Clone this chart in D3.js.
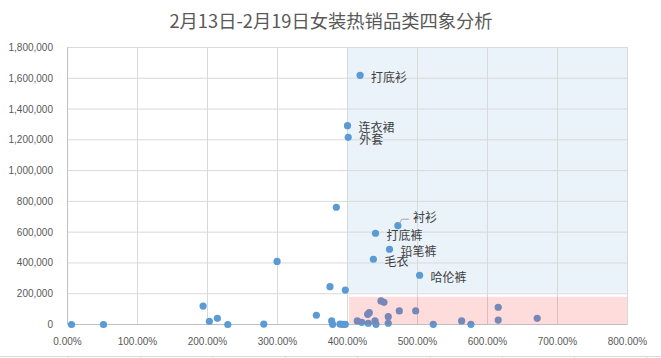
<!DOCTYPE html>
<html>
<head>
<meta charset="utf-8">
<script src="https://cdn.jsdelivr.net/npm/d3@7/dist/d3.min.js"></script>
<style>
  body { margin: 0; background: #fff; }
  text { font-family: "Liberation Sans", Arial, sans-serif; }
  .cjk { font-family: "Noto Sans CJK SC", sans-serif; }
</style>
</head>
<body>
<div id="chart"></div>
<script>

// labelled categories
var names  = ["打底衫", "连衣裙", "外套", "衬衫", "打底裤", "铅笔裤", "毛衣", "哈伦裤"];
var growth = [4.18, 4.00, 4.01, 4.72, 4.40, 4.60, 4.37, 5.03];
var sales  = [1619000, 1292000, 1216000, 642000, 593000, 489000, 424000, 320000];

// the rest of the categories (no label)
var otherGrowth = [3.84, 0.057, 0.514, 1.937, 2.027, 2.141, 2.29, 2.804, 2.994, 3.555,
                   3.75, 3.969, 3.774, 3.788, 3.893, 3.931, 3.969, 4.14, 4.203, 4.288,
                   4.311, 4.297, 4.393, 4.407, 4.478, 4.521, 4.582, 4.582, 4.74, 4.974,
                   5.225, 5.63, 5.763, 6.153, 6.153, 6.71];
var otherSales  = [762000, 0, 0, 120000, 21000, 40000, 0, 3000, 410000, 60000,
                   246000, 224000, 23000, 1000, 3000, 1000, 1000, 23000, 14000, 66000,
                   77000, 8000, 23000, 1000, 153000, 144000, 51000, 8000, 88000, 88000,
                   1000, 23000, 1000, 112000, 29000, 40000];

var xTicks = [0, 1, 2, 3, 4, 5, 6, 7, 8];
var yTicks = [0, 200000, 400000, 600000, 800000, 1000000, 1200000, 1400000, 1600000, 1800000];

// quadrant thresholds
var xLine = 4, yLine = 200000, pinkTop = 180000;

var width = 661, height = 358;

var svg = d3.select("#chart")
  .append("svg")
    .attr("width", width)
    .attr("height", height);

var x = d3.scaleLinear().domain([0, 8]).range([67.5, 627.5]);
var y = d3.scaleLinear().domain([0, 1800000]).range([324.5, 47.5]);

// title
svg.append("text")
  .attr("class", "cjk")
  .attr("x", 331)
  .attr("y", 20)
  .attr("text-anchor", "middle")
  .attr("dominant-baseline", "central")
  .attr("font-size", 18.3)
  .attr("fill", "#595959")
  .text("2月13日-2月19日女装热销品类四象分析");

// blue quadrant (high growth, high sales)
svg.append("rect")
  .attr("x", x(xLine) + 0.5)
  .attr("y", y(1800000))
  .attr("width", x(8) - x(xLine) - 1)
  .attr("height", y(yLine) - y(1800000) - 1)
  .attr("fill", "rgba(91,155,213,0.13)");

// gridlines
svg.append("g")
  .selectAll("line")
  .data(yTicks)
  .join("line")
    .attr("x1", x(0)).attr("x2", x(8))
    .attr("y1", function(d) { return y(d); })
    .attr("y2", function(d) { return y(d); })
    .attr("stroke", "#d9d9d9");

svg.append("g")
  .selectAll("line")
  .data(xTicks)
  .join("line")
    .attr("x1", function(d) { return x(d); })
    .attr("x2", function(d) { return x(d); })
    .attr("y1", y(0)).attr("y2", y(1800000))
    .attr("stroke", "#d9d9d9");

// axis lines
svg.append("line")
  .attr("x1", x(0)).attr("x2", x(0))
  .attr("y1", y(0)).attr("y2", y(1800000))
  .attr("stroke", "#bfbfbf");
svg.append("line")
  .attr("x1", x(0)).attr("x2", x(8))
  .attr("y1", y(0)).attr("y2", y(0))
  .attr("stroke", "#bfbfbf");

// tick labels
svg.append("g")
  .selectAll("text")
  .data(yTicks)
  .join("text")
    .attr("x", 53)
    .attr("y", function(d) { return y(d); })
    .attr("text-anchor", "end")
    .attr("dominant-baseline", "central")
    .attr("font-size", 10)
    .attr("fill", "#595959")
    .text(d3.format(","));

svg.append("g")
  .selectAll("text")
  .data(xTicks)
  .join("text")
    .attr("x", function(d) { return x(d); })
    .attr("y", 341)
    .attr("text-anchor", "middle")
    .attr("dominant-baseline", "central")
    .attr("font-size", 10)
    .attr("fill", "#595959")
    .text(d3.format(".2%"));

// points
var pts = svg.append("g");
pts.selectAll("circle.other")
  .data(otherGrowth)
  .join("circle")
    .attr("class", "other")
    .attr("cx", function(d) { return x(d); })
    .attr("cy", function(d, i) { return y(otherSales[i]); })
    .attr("r", 3.6)
    .attr("fill", "#5b9bd5");

pts.selectAll("circle.named")
  .data(names)
  .join("circle")
    .attr("class", "named")
    .attr("cx", function(d, i) { return x(growth[i]); })
    .attr("cy", function(d, i) { return y(sales[i]); })
    .attr("r", 3.6)
    .attr("fill", "#5b9bd5");

// pink quadrant (high growth, low sales) sits over the points
svg.append("rect")
  .attr("x", x(xLine) + 1.5)
  .attr("y", y(pinkTop))
  .attr("width", x(8) - x(xLine) - 2)
  .attr("height", y(0) - y(pinkTop) - 0.5)
  .attr("fill", "rgba(255,36,36,0.16)");

// leader line for 衬衫
var ci = names.indexOf("衬衫");
svg.append("polyline")
  .attr("points", [
      [x(growth[ci]) + 1.5, y(sales[ci]) - 2],
      [x(growth[ci]) + 4, y(sales[ci]) - 6.5],
      [x(growth[ci]) + 11, y(sales[ci]) - 6.5]
    ].join(" "))
  .attr("fill", "none")
  .attr("stroke", "#a6a6a6");

// data labels
svg.append("g")
  .selectAll("text")
  .data(names)
  .join("text")
    .attr("class", "cjk")
    .attr("x", function(d, i) { return x(growth[i]) + (d == "衬衫" ? 15 : 11); })
    .attr("y", function(d, i) { return y(sales[i]) + (d == "衬衫" ? -9 : 1); })
    .attr("dominant-baseline", "central")
    .attr("font-size", 12)
    .attr("fill", "#404040")
    .text(function(d) { return d; });

// sheet cell border below the chart
svg.append("line")
  .attr("x1", 0).attr("x2", width)
  .attr("y1", 356.5).attr("y2", 356.5)
  .attr("stroke", "#d9d9d9");
svg.append("g")
  .selectAll("line")
  .data(d3.range(0, 9))
  .join("line")
    .attr("x1", function(d) { return 68.5 + d * 72.3; })
    .attr("x2", function(d) { return 68.5 + d * 72.3; })
    .attr("y1", 356.5).attr("y2", 358)
    .attr("stroke", "#d9d9d9");

</script>
</body>
</html>
